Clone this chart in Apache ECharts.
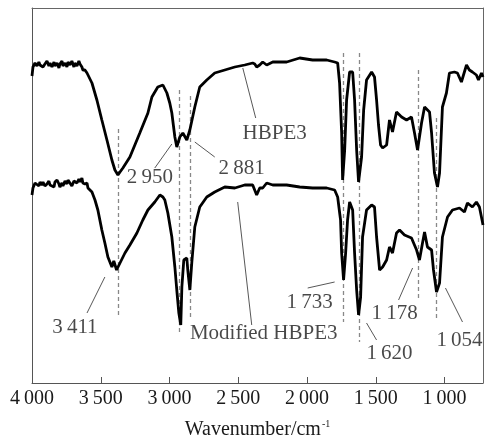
<!DOCTYPE html>
<html><head><meta charset="utf-8">
<script src="https://cdn.jsdelivr.net/npm/echarts@6/dist/echarts.min.js"></script>
<style>html,body{margin:0;padding:0;background:#fff}#c{width:485px;height:437px}</style>
</head><body><div id="c"></div><script>
// x tick labels (wavenumber, cm^-1)
const tickValues = [4000, 3500, 3000, 2500, 2000, 1500, 1000];

// HBPE3 spectrum: [wavenumber, transmittance (a.u.)]
const hbpe3 = [
 [4000,307],[3993,316],[3978,320],[3964,317],[3950,321],[3942,318],[3928,320],[3920,316],[3906,319],[3891,322],
 [3877,317],[3869,320],[3855,316],[3840,321],[3833,317],[3818,320],[3804,315],[3797,319],[3782,322],[3775,317],
 [3760,320],[3746,316],[3738,321],[3724,318],[3710,322],[3695,316],[3688,320],[3673,317],[3659,322],[3651,319],
 [3637,316],[3630,313],[3615,313],[3600,310],[3593,308],[3564,300],[3528,283],[3492,263],[3455,243],[3419,223],
 [3397,213],[3375,208],[3360,211],[3339,215],[3288,226],[3216,250],[3157,270],[3128,286],[3085,296],[3048,298],
 [3034,298],[3019,290],[2998,280],[2983,270],[2961,246],[2947,236],[2925,246],[2903,250],[2874,243],[2852,253],
 [2816,276],[2780,296],[2729,303],[2671,310],[2598,313],[2525,316],[2453,318],[2395,320],[2380,319],[2366,316],
 [2344,318],[2322,321],[2293,318],[2249,321],[2148,321],[2053,325],[1959,323],[1857,323],[1799,321],[1777,320],
 [1763,300],[1748,250],[1741,203],[1726,233],[1712,283],[1690,311],[1668,311],[1654,283],[1639,233],[1625,201],
 [1603,226],[1588,273],[1567,303],[1530,311],[1509,306],[1494,283],[1480,258],[1465,238],[1450,235],[1421,238],
 [1400,263],[1378,251],[1349,271],[1312,266],[1276,263],[1240,266],[1218,250],[1196,233],[1167,260],[1145,276],
 [1109,271],[1094,250],[1073,210],[1051,196],[1036,210],[1015,276],[986,290],[964,310],[928,311],[906,310],
 [877,301],[840,318],[819,313],[797,311],[768,308],[753,303],[731,310],[720,306]
];

// Modified HBPE3 spectrum
const modified = [
 [4000,188],[3993,195],[3978,200],[3964,200],[3950,197],[3942,201],[3928,198],[3920,201],[3906,197],[3891,199],
 [3877,202],[3869,198],[3855,200],[3840,196],[3833,201],[3818,203],[3804,199],[3797,196],[3782,200],[3775,197],
 [3760,202],[3746,199],[3738,203],[3724,200],[3710,197],[3695,202],[3688,203],[3673,200],[3659,204],[3651,201],
 [3637,205],[3630,200],[3615,199],[3600,200],[3593,195],[3564,191],[3542,183],[3521,173],[3492,153],[3470,140],
 [3448,126],[3419,116],[3405,122],[3397,120],[3385,113],[3375,113],[3360,120],[3346,118],[3324,130],[3288,138],
 [3237,150],[3194,163],[3157,173],[3143,175],[3107,181],[3070,188],[3048,186],[3034,183],[3012,170],[2983,146],
 [2961,116],[2947,93],[2932,70],[2918,58],[2910,96],[2896,123],[2874,125],[2867,113],[2852,93],[2838,120],
 [2816,156],[2780,176],[2729,186],[2671,191],[2598,196],[2525,195],[2453,198],[2395,198],[2366,188],[2344,195],
 [2322,195],[2293,200],[2249,198],[2148,198],[2053,196],[1959,195],[1857,195],[1799,193],[1777,186],[1756,163],
 [1748,130],[1734,103],[1719,130],[1705,163],[1690,181],[1668,173],[1654,130],[1639,93],[1625,68],[1610,86],
 [1596,146],[1567,173],[1530,178],[1509,176],[1494,146],[1472,113],[1450,116],[1421,123],[1400,136],[1378,130],
 [1349,150],[1327,153],[1291,148],[1240,145],[1203,133],[1182,123],[1160,140],[1145,151],[1124,136],[1094,133],
 [1080,113],[1058,91],[1036,100],[1015,146],[978,166],[942,173],[891,175],[855,171],[833,180],[797,176],
 [768,181],[746,176],[724,161],[720,158]
];

// dashed peak marker lines: wavenumber, top value, bottom value
const peakLineX = [3373, 2930, 2847, 1738, 1618, 1189, 1060];
const peakLineTop = [254, 293, 287, 330, 330, 313, 265];
const peakLineBottom = [68, 48, 66, 61, 41, 83, 63];

// annotation texts and their anchor positions [wavenumber, value]
const annText = ['2\u2009950', '2\u2009881', 'HBPE3', '3\u2009411', 'Modified HBPE3', '1\u2009733', '1\u2009620', '1\u2009178', '1\u2009054'];
const annPos = [[3143,206],[2475,215],[2235,250],[3688,56],[2315,50],[1981,81],[1400,30],[1363,70],[891,43]];
// leader lines from curve to annotation
const leaderFrom = [[2983,239],[2816,241],[2467,315],[3470,106],[2504,181],[1995,95],[1567,60],[1232,115],[993,95]];
const leaderTo = [[3107,215],[2671,226],[2373,265],[3600,70],[2402,58],[1799,101],[1494,43],[1334,83],[869,61]];

const fmt = v => String(v).replace(/(\d)(\d{3})$/, '$1\u2009$2');
const serif = '"Liberation Serif", "DejaVu Serif", serif';

const chart = echarts.init(document.getElementById('c'), null, {renderer: 'canvas'});
chart.setOption({
  animation: false,
  backgroundColor: '#fff',
  grid: {left: 32, right: 2, top: 8, bottom: 54, containLabel: false, outerBoundsMode: 'none'},
  xAxis: [{
    type: 'value', inverse: true, min: 720, max: 4000,
    axisLine: {show: true, onZero: false, lineStyle: {color: '#555', width: 1}},
    axisTick: {show: true, inside: true, length: 6, customValues: tickValues, lineStyle: {color: '#555'}},
    axisLabel: {customValues: tickValues, formatter: fmt, margin: 6, fontSize: 20, fontFamily: serif, color: '#1a1a1a'},
    splitLine: {show: false},
    name: 'Wavenumber/cm{sup|-1}', nameLocation: 'middle', nameGap: 36,
    nameTextStyle: {fontSize: 20, fontFamily: serif, color: '#1a1a1a', lineHeight: 22,
      rich: {sup: {fontSize: 10, fontFamily: serif, color: '#1a1a1a', verticalAlign: 'top', lineHeight: 22, padding: [0,0,10,1]}}}
  }, {
    type: 'value', inverse: true, min: 720, max: 4000, position: 'top',
    axisLine: {show: true, onZero: false, lineStyle: {color: '#666', width: 1}},
    axisTick: {show: false}, axisLabel: {show: false}, splitLine: {show: false}
  }],
  yAxis: [{
    type: 'value', min: 0, max: 375,
    axisLine: {show: true, onZero: false, lineStyle: {color: '#555', width: 1}},
    axisTick: {show: false}, axisLabel: {show: false}, splitLine: {show: false}
  }, {
    type: 'value', min: 0, max: 375, position: 'right',
    axisLine: {show: true, onZero: false, lineStyle: {color: '#666', width: 1}},
    axisTick: {show: false}, axisLabel: {show: false}, splitLine: {show: false}
  }],
  series: [
    {
      type: 'lines', coordinateSystem: 'cartesian2d', silent: true, z: 1,
      lineStyle: {color: '#888', width: 1.3, type: [4, 3], opacity: 1},
      data: peakLineX.map((x, i) => ({coords: [[x, peakLineTop[i]], [x, peakLineBottom[i]]]}))
    },
    {
      type: 'lines', coordinateSystem: 'cartesian2d', silent: true, z: 1,
      lineStyle: {color: '#444', width: 0.9, opacity: 1},
      data: leaderFrom.map((p, i) => ({coords: [p, leaderTo[i]]}))
    },
    {
      name: 'HBPE3', type: 'line', data: hbpe3, showSymbol: false, z: 3,
      lineStyle: {color: '#000', width: 2.8}
    },
    {
      name: 'Modified HBPE3', type: 'line', data: modified, showSymbol: false, z: 3,
      lineStyle: {color: '#000', width: 2.8}
    },
    {
      type: 'scatter', symbolSize: 0, z: 4, silent: true,
      data: annText.map((t, i) => ({name: t, value: annPos[i]})),
      label: {show: true, position: 'inside', formatter: p => p.name, fontSize: 21, fontFamily: serif, color: '#1a1a1a'}
    }
  ]
});
</script></body></html>
